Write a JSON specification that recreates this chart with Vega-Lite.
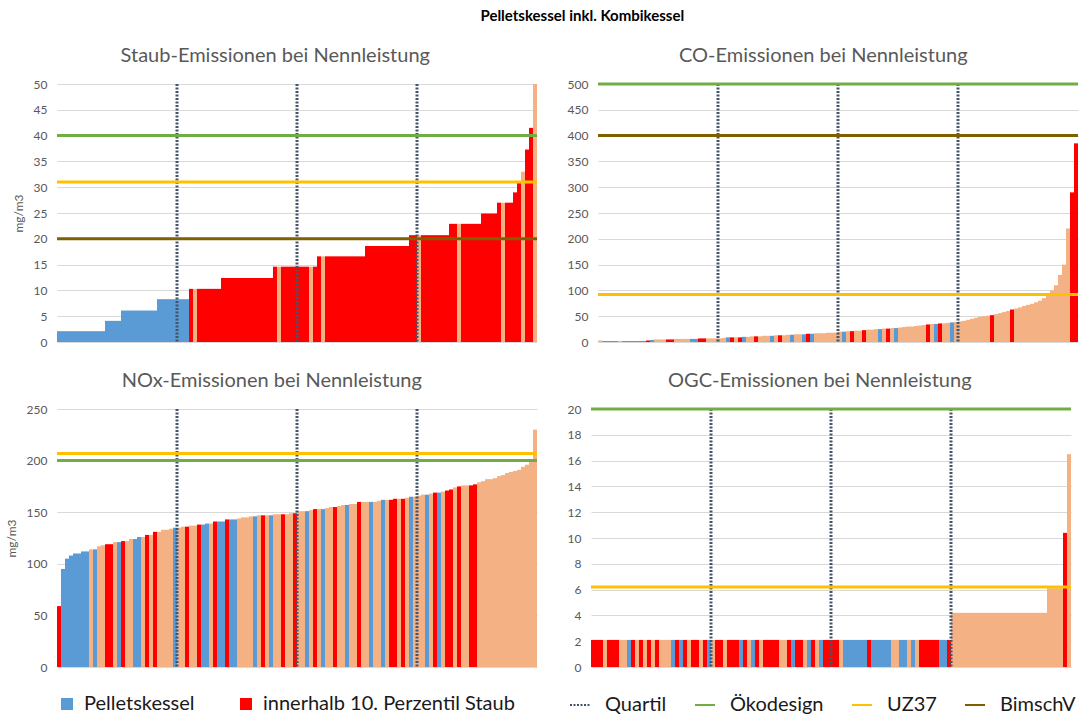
{
"$schema":"https://vega.github.io/schema/vega-lite/v6.json",
"padding":{"left":5,"top":9,"right":4,"bottom":0},
"background":"white",
"title":{"text":"Pelletskessel inkl. Kombikessel","fontSize":15,"fontWeight":"bold","color":"#000000","anchor":"middle","offset":22,"dx":40,"frame":"bounds"},
"datasets":{
"staub":[
{"k":1,"v":2.1,"c":"P"},{"k":2,"v":2.1,"c":"P"},{"k":3,"v":2.1,"c":"P"},{"k":4,"v":2.1,"c":"P"},{"k":5,"v":2.1,"c":"P"},{"k":6,"v":2.1,"c":"P"},{"k":7,"v":2.1,"c":"P"},{"k":8,"v":2.1,"c":"P"},{"k":9,"v":2.1,"c":"P"},{"k":10,"v":2.1,"c":"P"},
{"k":11,"v":2.1,"c":"P"},{"k":12,"v":2.1,"c":"P"},{"k":13,"v":4.1,"c":"P"},{"k":14,"v":4.1,"c":"P"},{"k":15,"v":4.1,"c":"P"},{"k":16,"v":4.1,"c":"P"},{"k":17,"v":6.1,"c":"P"},{"k":18,"v":6.1,"c":"P"},{"k":19,"v":6.1,"c":"P"},{"k":20,"v":6.1,"c":"P"},
{"k":21,"v":6.1,"c":"P"},{"k":22,"v":6.1,"c":"P"},{"k":23,"v":6.1,"c":"P"},{"k":24,"v":6.1,"c":"P"},{"k":25,"v":6.1,"c":"P"},{"k":26,"v":8.3,"c":"P"},{"k":27,"v":8.3,"c":"P"},{"k":28,"v":8.3,"c":"P"},{"k":29,"v":8.3,"c":"P"},{"k":30,"v":8.3,"c":"P"},
{"k":31,"v":8.3,"c":"P"},{"k":32,"v":8.3,"c":"P"},{"k":33,"v":8.3,"c":"P"},{"k":34,"v":10.3,"c":"R"},{"k":35,"v":10.3,"c":"S"},{"k":36,"v":10.3,"c":"R"},{"k":37,"v":10.3,"c":"R"},{"k":38,"v":10.3,"c":"R"},{"k":39,"v":10.3,"c":"R"},{"k":40,"v":10.3,"c":"R"},
{"k":41,"v":10.3,"c":"R"},{"k":42,"v":12.4,"c":"R"},{"k":43,"v":12.4,"c":"R"},{"k":44,"v":12.4,"c":"R"},{"k":45,"v":12.4,"c":"R"},{"k":46,"v":12.4,"c":"R"},{"k":47,"v":12.4,"c":"R"},{"k":48,"v":12.4,"c":"R"},{"k":49,"v":12.4,"c":"R"},{"k":50,"v":12.4,"c":"R"},
{"k":51,"v":12.4,"c":"R"},{"k":52,"v":12.4,"c":"R"},{"k":53,"v":12.4,"c":"R"},{"k":54,"v":12.4,"c":"R"},{"k":55,"v":14.6,"c":"R"},{"k":56,"v":14.6,"c":"S"},{"k":57,"v":14.6,"c":"R"},{"k":58,"v":14.6,"c":"R"},{"k":59,"v":14.6,"c":"R"},{"k":60,"v":14.6,"c":"R"},
{"k":61,"v":14.6,"c":"R"},{"k":62,"v":14.6,"c":"R"},{"k":63,"v":14.6,"c":"R"},{"k":64,"v":14.6,"c":"S"},{"k":65,"v":14.6,"c":"R"},{"k":66,"v":16.6,"c":"R"},{"k":67,"v":16.6,"c":"S"},{"k":68,"v":16.6,"c":"R"},{"k":69,"v":16.6,"c":"R"},{"k":70,"v":16.6,"c":"R"},
{"k":71,"v":16.6,"c":"R"},{"k":72,"v":16.6,"c":"R"},{"k":73,"v":16.6,"c":"R"},{"k":74,"v":16.6,"c":"R"},{"k":75,"v":16.6,"c":"R"},{"k":76,"v":16.6,"c":"R"},{"k":77,"v":16.6,"c":"R"},{"k":78,"v":18.6,"c":"R"},{"k":79,"v":18.6,"c":"R"},{"k":80,"v":18.6,"c":"R"},
{"k":81,"v":18.6,"c":"R"},{"k":82,"v":18.6,"c":"R"},{"k":83,"v":18.6,"c":"R"},{"k":84,"v":18.6,"c":"R"},{"k":85,"v":18.6,"c":"R"},{"k":86,"v":18.6,"c":"R"},{"k":87,"v":18.6,"c":"R"},{"k":88,"v":18.6,"c":"R"},{"k":89,"v":20.7,"c":"R"},{"k":90,"v":20.7,"c":"R"},
{"k":91,"v":20.7,"c":"S"},{"k":92,"v":20.7,"c":"R"},{"k":93,"v":20.7,"c":"R"},{"k":94,"v":20.7,"c":"R"},{"k":95,"v":20.7,"c":"R"},{"k":96,"v":20.7,"c":"R"},{"k":97,"v":20.7,"c":"R"},{"k":98,"v":20.7,"c":"R"},{"k":99,"v":22.9,"c":"R"},{"k":100,"v":22.9,"c":"R"},
{"k":101,"v":22.9,"c":"S"},{"k":102,"v":22.9,"c":"R"},{"k":103,"v":22.9,"c":"R"},{"k":104,"v":22.9,"c":"R"},{"k":105,"v":22.9,"c":"R"},{"k":106,"v":22.9,"c":"R"},{"k":107,"v":24.9,"c":"R"},{"k":108,"v":24.9,"c":"R"},{"k":109,"v":24.9,"c":"R"},{"k":110,"v":24.9,"c":"R"},
{"k":111,"v":27.0,"c":"R"},{"k":112,"v":27.0,"c":"S"},{"k":113,"v":27.0,"c":"R"},{"k":114,"v":27.0,"c":"R"},{"k":115,"v":29.0,"c":"R"},{"k":116,"v":31.0,"c":"R"},{"k":117,"v":33.0,"c":"S"},{"k":118,"v":37.3,"c":"R"},{"k":119,"v":41.5,"c":"R"},{"k":120,"v":50,"c":"S"}
],
"co":[
{"k":1,"v":3,"c":"S"},{"k":2,"v":2,"c":"P"},{"k":3,"v":2,"c":"P"},{"k":4,"v":2,"c":"P"},{"k":5,"v":2,"c":"P"},{"k":6,"v":2,"c":"S"},{"k":7,"v":2,"c":"P"},{"k":8,"v":2,"c":"P"},{"k":9,"v":2,"c":"P"},{"k":10,"v":2,"c":"P"},
{"k":11,"v":2,"c":"P"},{"k":12,"v":2,"c":"P"},{"k":13,"v":3,"c":"R"},{"k":14,"v":4,"c":"P"},{"k":15,"v":5,"c":"S"},{"k":16,"v":5,"c":"S"},{"k":17,"v":5,"c":"S"},{"k":18,"v":5,"c":"R"},{"k":19,"v":5,"c":"R"},{"k":20,"v":6,"c":"S"},
{"k":21,"v":6,"c":"S"},{"k":22,"v":6,"c":"S"},{"k":23,"v":6,"c":"S"},{"k":24,"v":6,"c":"P"},{"k":25,"v":6,"c":"P"},{"k":26,"v":7,"c":"R"},{"k":27,"v":7,"c":"R"},{"k":28,"v":7,"c":"S"},{"k":29,"v":7,"c":"S"},{"k":30,"v":7,"c":"S"},
{"k":31,"v":7,"c":"S"},{"k":32,"v":8,"c":"S"},{"k":33,"v":9,"c":"P"},{"k":34,"v":9,"c":"R"},{"k":35,"v":9,"c":"S"},{"k":36,"v":9,"c":"R"},{"k":37,"v":10,"c":"P"},{"k":38,"v":10,"c":"S"},{"k":39,"v":11,"c":"S"},{"k":40,"v":11,"c":"R"},
{"k":41,"v":11,"c":"S"},{"k":42,"v":12,"c":"S"},{"k":43,"v":12,"c":"S"},{"k":44,"v":12,"c":"P"},{"k":45,"v":13,"c":"S"},{"k":46,"v":13,"c":"R"},{"k":47,"v":13,"c":"S"},{"k":48,"v":14,"c":"S"},{"k":49,"v":14,"c":"P"},{"k":50,"v":15,"c":"S"},
{"k":51,"v":15,"c":"S"},{"k":52,"v":15,"c":"P"},{"k":53,"v":16,"c":"R"},{"k":54,"v":16,"c":"P"},{"k":55,"v":17,"c":"S"},{"k":56,"v":17,"c":"S"},{"k":57,"v":17,"c":"S"},{"k":58,"v":18,"c":"S"},{"k":59,"v":18,"c":"S"},{"k":60,"v":18,"c":"S"},
{"k":61,"v":20,"c":"S"},{"k":62,"v":20,"c":"P"},{"k":63,"v":21,"c":"S"},{"k":64,"v":21,"c":"R"},{"k":65,"v":22,"c":"S"},{"k":66,"v":22,"c":"S"},{"k":67,"v":23,"c":"R"},{"k":68,"v":24,"c":"S"},{"k":69,"v":24,"c":"S"},{"k":70,"v":25,"c":"S"},
{"k":71,"v":25,"c":"P"},{"k":72,"v":26,"c":"S"},{"k":73,"v":26,"c":"R"},{"k":74,"v":27,"c":"S"},{"k":75,"v":27,"c":"P"},{"k":76,"v":28,"c":"S"},{"k":77,"v":29,"c":"S"},{"k":78,"v":30,"c":"S"},{"k":79,"v":30,"c":"S"},{"k":80,"v":31,"c":"S"},
{"k":81,"v":32,"c":"S"},{"k":82,"v":33,"c":"S"},{"k":83,"v":34,"c":"R"},{"k":84,"v":35,"c":"S"},{"k":85,"v":35,"c":"P"},{"k":86,"v":36,"c":"R"},{"k":87,"v":36,"c":"S"},{"k":88,"v":37,"c":"S"},{"k":89,"v":38,"c":"P"},{"k":90,"v":39,"c":"S"},
{"k":91,"v":40,"c":"S"},{"k":92,"v":41,"c":"S"},{"k":93,"v":43,"c":"S"},{"k":94,"v":45,"c":"S"},{"k":95,"v":47,"c":"S"},{"k":96,"v":49,"c":"S"},{"k":97,"v":50,"c":"S"},{"k":98,"v":51,"c":"S"},{"k":99,"v":52,"c":"R"},{"k":100,"v":54,"c":"S"},
{"k":101,"v":56,"c":"S"},{"k":102,"v":58,"c":"S"},{"k":103,"v":60,"c":"S"},{"k":104,"v":63,"c":"R"},{"k":105,"v":65,"c":"S"},{"k":106,"v":67,"c":"S"},{"k":107,"v":70,"c":"S"},{"k":108,"v":72,"c":"S"},{"k":109,"v":74,"c":"S"},{"k":110,"v":77,"c":"S"},
{"k":111,"v":80,"c":"S"},{"k":112,"v":85,"c":"S"},{"k":113,"v":92,"c":"S"},{"k":114,"v":100,"c":"S"},{"k":115,"v":110,"c":"S"},{"k":116,"v":130,"c":"S"},{"k":117,"v":150,"c":"S"},{"k":118,"v":220,"c":"S"},{"k":119,"v":290,"c":"R"},{"k":120,"v":385,"c":"R"}
],
"nox":[
{"k":1,"v":59,"c":"R"},{"k":2,"v":95,"c":"P"},{"k":3,"v":105,"c":"P"},{"k":4,"v":108,"c":"P"},{"k":5,"v":110,"c":"P"},{"k":6,"v":110,"c":"P"},{"k":7,"v":112,"c":"P"},{"k":8,"v":112,"c":"P"},{"k":9,"v":114,"c":"S"},{"k":10,"v":114,"c":"P"},
{"k":11,"v":117,"c":"S"},{"k":12,"v":118,"c":"S"},{"k":13,"v":119,"c":"R"},{"k":14,"v":119,"c":"R"},{"k":15,"v":121,"c":"S"},{"k":16,"v":121,"c":"P"},{"k":17,"v":122,"c":"R"},{"k":18,"v":122,"c":"S"},{"k":19,"v":124,"c":"S"},{"k":20,"v":124,"c":"P"},
{"k":21,"v":126,"c":"P"},{"k":22,"v":126,"c":"S"},{"k":23,"v":128,"c":"R"},{"k":24,"v":128,"c":"S"},{"k":25,"v":131,"c":"R"},{"k":26,"v":131,"c":"S"},{"k":27,"v":133,"c":"S"},{"k":28,"v":133,"c":"S"},{"k":29,"v":134,"c":"S"},{"k":30,"v":135,"c":"P"},
{"k":31,"v":135,"c":"S"},{"k":32,"v":136,"c":"S"},{"k":33,"v":136,"c":"R"},{"k":34,"v":137,"c":"S"},{"k":35,"v":137,"c":"S"},{"k":36,"v":138,"c":"R"},{"k":37,"v":138,"c":"P"},{"k":38,"v":139,"c":"P"},{"k":39,"v":139,"c":"S"},{"k":40,"v":141,"c":"R"},
{"k":41,"v":141,"c":"P"},{"k":42,"v":141,"c":"P"},{"k":43,"v":143,"c":"R"},{"k":44,"v":143,"c":"P"},{"k":45,"v":143,"c":"P"},{"k":46,"v":144,"c":"S"},{"k":47,"v":145,"c":"S"},{"k":48,"v":145,"c":"S"},{"k":49,"v":146,"c":"S"},{"k":50,"v":146,"c":"P"},
{"k":51,"v":147,"c":"S"},{"k":52,"v":147,"c":"R"},{"k":53,"v":147,"c":"S"},{"k":54,"v":147,"c":"P"},{"k":55,"v":148,"c":"S"},{"k":56,"v":148,"c":"S"},{"k":57,"v":148,"c":"R"},{"k":58,"v":148,"c":"S"},{"k":59,"v":149,"c":"S"},{"k":60,"v":149,"c":"R"},
{"k":61,"v":151,"c":"S"},{"k":62,"v":151,"c":"S"},{"k":63,"v":151,"c":"P"},{"k":64,"v":152,"c":"S"},{"k":65,"v":153,"c":"R"},{"k":66,"v":153,"c":"S"},{"k":67,"v":153,"c":"P"},{"k":68,"v":154,"c":"S"},{"k":69,"v":155,"c":"S"},{"k":70,"v":155,"c":"R"},
{"k":71,"v":156,"c":"S"},{"k":72,"v":157,"c":"S"},{"k":73,"v":157,"c":"P"},{"k":74,"v":158,"c":"S"},{"k":75,"v":158,"c":"S"},{"k":76,"v":160,"c":"R"},{"k":77,"v":160,"c":"S"},{"k":78,"v":160,"c":"S"},{"k":79,"v":160,"c":"P"},{"k":80,"v":160,"c":"S"},
{"k":81,"v":161,"c":"S"},{"k":82,"v":162,"c":"P"},{"k":83,"v":162,"c":"S"},{"k":84,"v":162,"c":"R"},{"k":85,"v":163,"c":"R"},{"k":86,"v":163,"c":"S"},{"k":87,"v":163,"c":"R"},{"k":88,"v":164,"c":"S"},{"k":89,"v":165,"c":"P"},{"k":90,"v":165,"c":"S"},
{"k":91,"v":166,"c":"S"},{"k":92,"v":167,"c":"S"},{"k":93,"v":167,"c":"P"},{"k":94,"v":168,"c":"S"},{"k":95,"v":169,"c":"R"},{"k":96,"v":169,"c":"P"},{"k":97,"v":170,"c":"S"},{"k":98,"v":171,"c":"R"},{"k":99,"v":172,"c":"R"},{"k":100,"v":174,"c":"S"},
{"k":101,"v":175,"c":"R"},{"k":102,"v":176,"c":"S"},{"k":103,"v":176,"c":"S"},{"k":104,"v":176,"c":"R"},{"k":105,"v":177,"c":"R"},{"k":106,"v":179,"c":"S"},{"k":107,"v":180,"c":"S"},{"k":108,"v":182,"c":"S"},{"k":109,"v":182,"c":"S"},{"k":110,"v":183,"c":"S"},
{"k":111,"v":185,"c":"S"},{"k":112,"v":186,"c":"S"},{"k":113,"v":188,"c":"S"},{"k":114,"v":189,"c":"S"},{"k":115,"v":190,"c":"S"},{"k":116,"v":191,"c":"S"},{"k":117,"v":194,"c":"S"},{"k":118,"v":196,"c":"S"},{"k":119,"v":199,"c":"S"},{"k":120,"v":230,"c":"S"}
],
"ogc":[
{"k":1,"v":2.1,"c":"R"},{"k":2,"v":2.1,"c":"R"},{"k":3,"v":2.1,"c":"R"},{"k":4,"v":2.1,"c":"S"},{"k":5,"v":2.1,"c":"R"},{"k":6,"v":2.1,"c":"R"},{"k":7,"v":2.1,"c":"R"},{"k":8,"v":2.1,"c":"S"},{"k":9,"v":2.1,"c":"S"},{"k":10,"v":2.1,"c":"P"},
{"k":11,"v":2.1,"c":"R"},{"k":12,"v":2.1,"c":"S"},{"k":13,"v":2.1,"c":"R"},{"k":14,"v":2.1,"c":"S"},{"k":15,"v":2.1,"c":"R"},{"k":16,"v":2.1,"c":"S"},{"k":17,"v":2.1,"c":"R"},{"k":18,"v":2.1,"c":"S"},{"k":19,"v":2.1,"c":"S"},{"k":20,"v":2.1,"c":"S"},
{"k":21,"v":2.1,"c":"P"},{"k":22,"v":2.1,"c":"R"},{"k":23,"v":2.1,"c":"P"},{"k":24,"v":2.1,"c":"R"},{"k":25,"v":2.1,"c":"S"},{"k":26,"v":2.1,"c":"R"},{"k":27,"v":2.1,"c":"R"},{"k":28,"v":2.1,"c":"S"},{"k":29,"v":2.1,"c":"R"},{"k":30,"v":2.1,"c":"P"},
{"k":31,"v":2.1,"c":"S"},{"k":32,"v":2.1,"c":"R"},{"k":33,"v":2.1,"c":"R"},{"k":34,"v":2.1,"c":"S"},{"k":35,"v":2.1,"c":"R"},{"k":36,"v":2.1,"c":"R"},{"k":37,"v":2.1,"c":"R"},{"k":38,"v":2.1,"c":"P"},{"k":39,"v":2.1,"c":"R"},{"k":40,"v":2.1,"c":"S"},
{"k":41,"v":2.1,"c":"P"},{"k":42,"v":2.1,"c":"R"},{"k":43,"v":2.1,"c":"S"},{"k":44,"v":2.1,"c":"R"},{"k":45,"v":2.1,"c":"R"},{"k":46,"v":2.1,"c":"R"},{"k":47,"v":2.1,"c":"R"},{"k":48,"v":2.1,"c":"S"},{"k":49,"v":2.1,"c":"S"},{"k":50,"v":2.1,"c":"R"},
{"k":51,"v":2.1,"c":"P"},{"k":52,"v":2.1,"c":"R"},{"k":53,"v":2.1,"c":"R"},{"k":54,"v":2.1,"c":"S"},{"k":55,"v":2.1,"c":"P"},{"k":56,"v":2.1,"c":"R"},{"k":57,"v":2.1,"c":"S"},{"k":58,"v":2.1,"c":"P"},{"k":59,"v":2.1,"c":"R"},{"k":60,"v":2.1,"c":"R"},
{"k":61,"v":2.1,"c":"R"},{"k":62,"v":2.1,"c":"R"},{"k":63,"v":2.1,"c":"S"},{"k":64,"v":2.1,"c":"P"},{"k":65,"v":2.1,"c":"P"},{"k":66,"v":2.1,"c":"P"},{"k":67,"v":2.1,"c":"P"},{"k":68,"v":2.1,"c":"P"},{"k":69,"v":2.1,"c":"P"},{"k":70,"v":2.1,"c":"R"},
{"k":71,"v":2.1,"c":"P"},{"k":72,"v":2.1,"c":"P"},{"k":73,"v":2.1,"c":"P"},{"k":74,"v":2.1,"c":"P"},{"k":75,"v":2.1,"c":"P"},{"k":76,"v":2.1,"c":"S"},{"k":77,"v":2.1,"c":"S"},{"k":78,"v":2.1,"c":"P"},{"k":79,"v":2.1,"c":"P"},{"k":80,"v":2.1,"c":"S"},
{"k":81,"v":2.1,"c":"P"},{"k":82,"v":2.1,"c":"S"},{"k":83,"v":2.1,"c":"R"},{"k":84,"v":2.1,"c":"R"},{"k":85,"v":2.1,"c":"R"},{"k":86,"v":2.1,"c":"R"},{"k":87,"v":2.1,"c":"R"},{"k":88,"v":2.1,"c":"P"},{"k":89,"v":2.1,"c":"P"},{"k":90,"v":2.1,"c":"R"},
{"k":91,"v":4.2,"c":"S"},{"k":92,"v":4.2,"c":"S"},{"k":93,"v":4.2,"c":"S"},{"k":94,"v":4.2,"c":"S"},{"k":95,"v":4.2,"c":"S"},{"k":96,"v":4.2,"c":"S"},{"k":97,"v":4.2,"c":"S"},{"k":98,"v":4.2,"c":"S"},{"k":99,"v":4.2,"c":"S"},{"k":100,"v":4.2,"c":"S"},
{"k":101,"v":4.2,"c":"S"},{"k":102,"v":4.2,"c":"S"},{"k":103,"v":4.2,"c":"S"},{"k":104,"v":4.2,"c":"S"},{"k":105,"v":4.2,"c":"S"},{"k":106,"v":4.2,"c":"S"},{"k":107,"v":4.2,"c":"S"},{"k":108,"v":4.2,"c":"S"},{"k":109,"v":4.2,"c":"S"},{"k":110,"v":4.2,"c":"S"},
{"k":111,"v":4.2,"c":"S"},{"k":112,"v":4.2,"c":"S"},{"k":113,"v":4.2,"c":"S"},{"k":114,"v":4.2,"c":"S"},{"k":115,"v":6.1,"c":"S"},{"k":116,"v":6.1,"c":"S"},{"k":117,"v":6.1,"c":"S"},{"k":118,"v":6.1,"c":"S"},{"k":119,"v":10.4,"c":"R"},{"k":120,"v":16.5,"c":"S"}
],
"limits":[
{"p":"staub","typ":"Quartil","k":31},{"p":"staub","typ":"Quartil","k":61},{"p":"staub","typ":"Quartil","k":91},
{"p":"staub","typ":"Ökodesign","v":40},{"p":"staub","typ":"UZ37","v":31},{"p":"staub","typ":"BimschV","v":20},
{"p":"co","typ":"Quartil","k":31},{"p":"co","typ":"Quartil","k":61},{"p":"co","typ":"Quartil","k":91},
{"p":"co","typ":"Ökodesign","v":500},{"p":"co","typ":"UZ37","v":92},{"p":"co","typ":"BimschV","v":400},
{"p":"nox","typ":"Quartil","k":31},{"p":"nox","typ":"Quartil","k":61},{"p":"nox","typ":"Quartil","k":91},
{"p":"nox","typ":"Ökodesign","v":200},{"p":"nox","typ":"UZ37","v":207},
{"p":"ogc","typ":"Quartil","k":31},{"p":"ogc","typ":"Quartil","k":61},{"p":"ogc","typ":"Quartil","k":91},
{"p":"ogc","typ":"Ökodesign","v":20},{"p":"ogc","typ":"UZ37","v":6.2}
]
},
"vconcat":[
{"hconcat":[
{"title":"Staub-Emissionen bei Nennleistung","width":480,"height":258,
"layer":[
{"data":{"name":"staub"},"mark":{"type":"bar"},
"encoding":{"x":{"field":"k","type":"ordinal","axis":null,"scale":{"paddingInner":0,"paddingOuter":0}},
"y":{"field":"v","type":"quantitative","scale":{"domain":[0,50]},"axis":{"title":"mg/m3","values":[0,5,10,15,20,25,30,35,40,45,50]}},
"fill":{"field":"c","type":"nominal","scale":{"domain":["P","R","S"],"range":["#5B9BD5","#FF0000","#F4B183"]},
"legend":{"title":null,"orient":"bottom","offset":21,"direction":"horizontal","values":["P","R"],"labelExpr":"datum.value == 'P' ? 'Pelletskessel' : 'innerhalb 10. Perzentil Staub'","symbolType":"square","symbolSize":144,"symbolStrokeWidth":0,"labelFontSize":20,"labelColor":"#1a1a1a","labelLimit":400,"columnPadding":41,"labelOffset":7}}}},
{"data":{"name":"limits"},"transform":[{"filter":"datum.p=='staub' && datum.typ=='Quartil'"}],"mark":{"type":"rule","strokeWidth":3},
"encoding":{"x":{"field":"k","type":"ordinal","bandPosition":0,"axis":null},
"stroke":{"field":"typ","type":"nominal","scale":{"domain":["Quartil","Ökodesign","UZ37","BimschV"],"range":["#44546A","#70AD47","#FFC000","#7F6000"]},
"legend":{"title":null,"orient":"bottom","offset":21,"direction":"horizontal","symbolType":"stroke","symbolSize":400,"symbolStrokeWidth":2,"labelFontSize":20,"labelColor":"#1a1a1a","labelLimit":400,"columnPadding":24,"labelOffset":14}},
"strokeDash":{"field":"typ","type":"nominal","scale":{"domain":["Quartil","Ökodesign","UZ37","BimschV"],"range":[[2,1.5],[1,0],[1,0],[1,0]]},
"legend":{"title":null,"orient":"bottom","offset":21,"direction":"horizontal","symbolType":"stroke","symbolSize":400,"symbolStrokeWidth":2,"labelFontSize":20,"labelColor":"#1a1a1a","labelLimit":400,"columnPadding":24,"labelOffset":14}}}},
{"data":{"name":"limits"},"transform":[{"filter":"datum.p=='staub' && datum.typ!='Quartil'"}],"mark":{"type":"rule","strokeWidth":3},
"encoding":{"y":{"field":"v","type":"quantitative","scale":{"domain":[0,50]},"axis":{"title":"mg/m3","values":[0,5,10,15,20,25,30,35,40,45,50]}},"stroke":{"field":"typ","type":"nominal"},"strokeDash":{"field":"typ","type":"nominal"}}}
]},
{"title":"CO-Emissionen bei Nennleistung","width":480,"height":258,
"layer":[
{"data":{"name":"co"},"mark":{"type":"bar"},
"encoding":{"x":{"field":"k","type":"ordinal","axis":null,"scale":{"paddingInner":0,"paddingOuter":0}},
"y":{"field":"v","type":"quantitative","scale":{"domain":[0,500]},"axis":{"title":null,"values":[0,50,100,150,200,250,300,350,400,450,500]}},
"fill":{"field":"c","type":"nominal"}}},
{"data":{"name":"limits"},"transform":[{"filter":"datum.p=='co' && datum.typ=='Quartil'"}],"mark":{"type":"rule","strokeWidth":3},
"encoding":{"x":{"field":"k","type":"ordinal","bandPosition":0,"axis":null},"stroke":{"field":"typ","type":"nominal"},"strokeDash":{"field":"typ","type":"nominal"}}},
{"data":{"name":"limits"},"transform":[{"filter":"datum.p=='co' && datum.typ!='Quartil'"}],"mark":{"type":"rule","strokeWidth":3},
"encoding":{"y":{"field":"v","type":"quantitative","scale":{"domain":[0,500]},"axis":{"title":null,"values":[0,50,100,150,200,250,300,350,400,450,500]}},"stroke":{"field":"typ","type":"nominal"},"strokeDash":{"field":"typ","type":"nominal"}}}
]}
],"spacing":28},
{"hconcat":[
{"title":"NOx-Emissionen bei Nennleistung","width":480,"height":258,
"layer":[
{"data":{"name":"nox"},"mark":{"type":"bar"},
"encoding":{"x":{"field":"k","type":"ordinal","axis":null,"scale":{"paddingInner":0,"paddingOuter":0}},
"y":{"field":"v","type":"quantitative","scale":{"domain":[0,250]},"axis":{"title":"mg/m3","values":[0,50,100,150,200,250]}},
"fill":{"field":"c","type":"nominal"}}},
{"data":{"name":"limits"},"transform":[{"filter":"datum.p=='nox' && datum.typ=='Quartil'"}],"mark":{"type":"rule","strokeWidth":3},
"encoding":{"x":{"field":"k","type":"ordinal","bandPosition":0,"axis":null},"stroke":{"field":"typ","type":"nominal"},"strokeDash":{"field":"typ","type":"nominal"}}},
{"data":{"name":"limits"},"transform":[{"filter":"datum.p=='nox' && datum.typ!='Quartil'"}],"mark":{"type":"rule","strokeWidth":3},
"encoding":{"y":{"field":"v","type":"quantitative","scale":{"domain":[0,250]},"axis":{"title":"mg/m3","values":[0,50,100,150,200,250]}},"stroke":{"field":"typ","type":"nominal"},"strokeDash":{"field":"typ","type":"nominal"}}}
]},
{"title":"OGC-Emissionen bei Nennleistung","width":480,"height":258,
"layer":[
{"data":{"name":"ogc"},"mark":{"type":"bar"},
"encoding":{"x":{"field":"k","type":"ordinal","axis":null,"scale":{"paddingInner":0,"paddingOuter":0}},
"y":{"field":"v","type":"quantitative","scale":{"domain":[0,20]},"axis":{"title":null,"values":[0,2,4,6,8,10,12,14,16,18,20]}},
"fill":{"field":"c","type":"nominal"}}},
{"data":{"name":"limits"},"transform":[{"filter":"datum.p=='ogc' && datum.typ=='Quartil'"}],"mark":{"type":"rule","strokeWidth":3},
"encoding":{"x":{"field":"k","type":"ordinal","bandPosition":0,"axis":null},"stroke":{"field":"typ","type":"nominal"},"strokeDash":{"field":"typ","type":"nominal"}}},
{"data":{"name":"limits"},"transform":[{"filter":"datum.p=='ogc' && datum.typ!='Quartil'"}],"mark":{"type":"rule","strokeWidth":3},
"encoding":{"y":{"field":"v","type":"quantitative","scale":{"domain":[0,20]},"axis":{"title":null,"values":[0,2,4,6,8,10,12,14,16,18,20]}},"stroke":{"field":"typ","type":"nominal"},"strokeDash":{"field":"typ","type":"nominal"}}}
]}
],"spacing":28}
],
"spacing":23,
"config":{
"font":"Lato",
"view":{"stroke":null},
"legend":{"layout":{"bottom":{"anchor":"start","direction":"horizontal","margin":54}}},
"axisY":{"grid":true,"gridColor":"#D9D9D9","domain":false,"ticks":false,"labelColor":"#595959","labelFontSize":12,"labelPadding":10,"labelOverlap":false,"titleColor":"#595959","titleFontSize":12,"titleFontWeight":"normal","titlePadding":8},
"title":{"fontSize":20,"fontWeight":"normal","color":"#595959","offset":12,"frame":"bounds"}
}
}
